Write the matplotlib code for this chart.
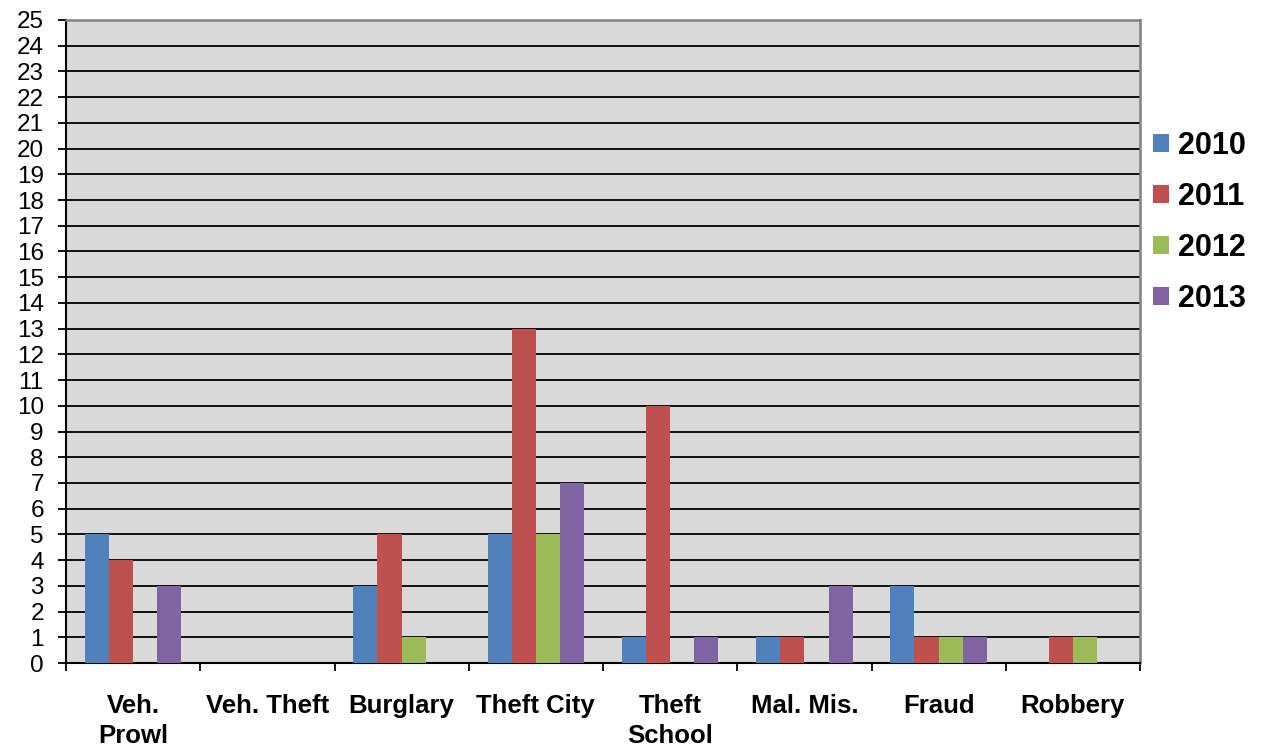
import matplotlib
matplotlib.use("Agg")
import matplotlib.pyplot as plt
from matplotlib.patches import Patch
import numpy as np

plt.rcParams['font.family'] = ['Liberation Sans', 'DejaVu Sans']

categories = ["Veh.\nProwl", "Veh. Theft", "Burglary", "Theft City", "Theft\nSchool", "Mal. Mis.", "Fraud", "Robbery"]
years = ["2010", "2011", "2012", "2013"]
v2010 = [5, 0, 3, 5, 1, 1, 3, 0]
v2011 = [4, 0, 5, 13, 10, 1, 1, 1]
v2012 = [0, 0, 1, 5, 0, 0, 1, 1]
v2013 = [3, 0, 0, 7, 1, 3, 1, 0]
series = [v2010, v2011, v2012, v2013]
colors = ["#4F81BD", "#C0504D", "#9BBB59", "#8064A2"]
yticks = list(range(0, 26))

fig = plt.figure(figsize=(12.62, 7.49), dpi=100)
ax = fig.add_axes([66/1262, 86/749, (1140-66)/1262, (663-20)/749])
ax.set_facecolor("#D9D9D9")

x = np.arange(len(categories))
w = 0.18
for i, (vals, c) in enumerate(zip(series, colors)):
    ax.bar(x + (i - 1.5) * w, vals, width=w, color=c, zorder=3, label=years[i])

ax.set_xlim(-0.5, len(categories) - 0.5)
ax.set_ylim(0, 25)
ax.set_yticks(yticks)
ax.set_yticklabels([str(t) for t in yticks], fontsize=17.5)
ax.yaxis.grid(True, color="black", linewidth=1.3, zorder=1)
ax.set_axisbelow(True)

ax.set_xticks(np.arange(len(categories) + 1) - 0.5)
ax.set_xticklabels([])
ax.set_xticks(x, minor=True)
ax.set_xticklabels(categories, minor=True, fontsize=18.5, fontweight="bold", linespacing=1.36)
ax.tick_params(axis="x", which="minor", length=0, pad=22)
ax.tick_params(axis="x", which="major", direction="out", length=6, width=1.3, color="black")
ax.tick_params(axis="y", direction="out", length=6, width=1.3, color="black", pad=10)

for s in ["left", "bottom"]:
    ax.spines[s].set_color("black")
    ax.spines[s].set_linewidth(1.5)
for s in ["right", "top"]:
    ax.spines[s].set_color("#808080")
    ax.spines[s].set_linewidth(1.8)

handles = [Patch(facecolor=c, edgecolor="none", label=y) for c, y in zip(colors, years)]
fig.legend(handles=handles, loc="upper left", bbox_to_anchor=(1153/1262, 1 - 131/749),
           frameon=False, prop={"size": 22, "weight": "bold"}, borderaxespad=0, borderpad=0,
           handlelength=0.53, handleheight=0.53, handletextpad=0.3, labelspacing=0.69)

fig.savefig("out.png", dpi=100)
